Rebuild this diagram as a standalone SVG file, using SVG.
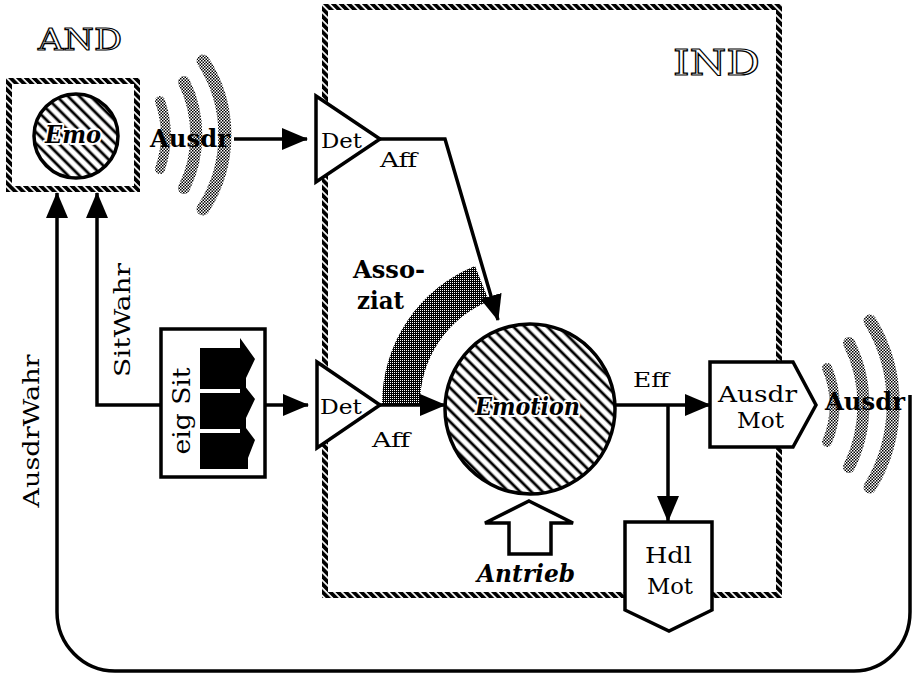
<svg xmlns="http://www.w3.org/2000/svg" width="912" height="675" viewBox="0 0 912 675">
<defs>
<pattern id="hatch" width="8" height="8" patternUnits="userSpaceOnUse" patternTransform="rotate(45)"><rect width="8" height="8" fill="#fff"/><rect y="2.6" width="8" height="2.8" fill="#000"/></pattern>
<pattern id="rope" width="5.5" height="5.5" patternUnits="userSpaceOnUse" patternTransform="rotate(-45)"><rect width="3.8" height="5.5" fill="#000"/></pattern>
<pattern id="stip" width="3" height="3" patternUnits="userSpaceOnUse"><rect width="3" height="3" fill="#fff"/><rect width="1.5" height="1.5" fill="#000"/><rect x="1.5" y="1.5" width="1.5" height="1.5" fill="#000"/></pattern>
<pattern id="dark" width="2" height="2" patternUnits="userSpaceOnUse"><rect width="2" height="2" fill="#000"/><rect width="1" height="1" fill="#fff"/></pattern>
<marker id="ah" markerUnits="userSpaceOnUse" viewBox="0 0 26 22" markerWidth="26" markerHeight="22" refX="25" refY="11" orient="auto"><path d="M0,0 L26,11 L0,22 z" fill="#000"/></marker>
</defs>
<style>
.t{font-family:"DejaVu Serif","Liberation Serif",serif;fill:#000}
.b{font-weight:bold}
.bi{font-weight:bold;font-style:italic;stroke:#fff;stroke-width:4;paint-order:stroke;stroke-linejoin:round}
.open{fill:#fff;stroke:#000;stroke-width:1.2}
.box{fill:#fff;stroke:#000;stroke-width:3.5;stroke-linejoin:miter}
.line{fill:none;stroke:#000;stroke-width:3.5}
.wave{fill:none;stroke:url(#stip);stroke-linecap:round}
.frame{fill:none;stroke:url(#rope);stroke-width:6}
</style>
<rect width="912" height="675" fill="#fff"/>

<g id="IND">
<rect class="frame" x="325" y="7" width="454" height="588"/>
<text class="t open" x="673" y="75" font-size="36" textLength="87" lengthAdjust="spacingAndGlyphs">IND</text>
</g>

<g id="AND">
<text class="t open" x="38" y="50" font-size="30" textLength="84" lengthAdjust="spacingAndGlyphs">AND</text>
<rect class="frame" x="9" y="81" width="128" height="108"/>
<circle cx="76" cy="136" r="42" fill="url(#hatch)" stroke="#000" stroke-width="3.5"/>
<text class="t bi" x="45" y="143" font-size="24" textLength="56" lengthAdjust="spacingAndGlyphs">Emo</text>
</g>

<g id="Ausdr-left">
<path class="wave" stroke-width="10" d="M160 101 A104 104 0 0 1 160 169"/>
<path class="wave" stroke-width="12" d="M184 82 A120 120 0 0 1 184 188"/>
<path class="wave" stroke-width="13" d="M203 61 A136 136 0 0 1 203 209"/>
<text class="t b" x="150" y="147" font-size="24" textLength="80" lengthAdjust="spacingAndGlyphs">Ausdr</text>
</g>

<g id="Assoziat">
<path d="M382 404 A149 149 0 0 1 475 266 L489 301 A111 111 0 0 0 420 404 Z" fill="url(#dark)"/>
<text class="t b" x="353" y="278" font-size="24" textLength="72" lengthAdjust="spacingAndGlyphs">Asso-</text>
<text class="t b" x="357" y="309" font-size="24" textLength="47" lengthAdjust="spacingAndGlyphs">ziat</text>
</g>

<g id="connectors">
<path class="line" d="M234 139 H307" marker-end="url(#ah)"/>
<path class="line" d="M380 139 H445 L498 320" marker-end="url(#ah)"/>
<path class="line" d="M161 405 H97 V193" marker-end="url(#ah)"/>
<path class="line" d="M910 395 V612 A56 59 0 0 1 854 671 H115 A58 59 0 0 1 57 612 V193" marker-end="url(#ah)"/>
<path class="line" d="M266 405 H308" marker-end="url(#ah)"/>
<path class="line" d="M380 405 H445" marker-end="url(#ah)"/>
<path class="line" d="M615 405 H710" marker-end="url(#ah)"/>
<path class="line" d="M668 405 V521" marker-end="url(#ah)"/>
</g>

<g id="DetTop">
<polygon class="box" points="316,96 380,139 316,182"/>
<text class="t" x="321" y="148" font-size="21" textLength="41" lengthAdjust="spacingAndGlyphs">Det</text>
<text class="t" x="380" y="167" font-size="21" textLength="37" lengthAdjust="spacingAndGlyphs">Aff</text>
</g>

<g id="DetBottom">
<polygon class="box" points="317,362 380,405 317,448"/>
<text class="t" x="320" y="414" font-size="21" textLength="42" lengthAdjust="spacingAndGlyphs">Det</text>
<text class="t" x="372" y="447" font-size="21" textLength="38" lengthAdjust="spacingAndGlyphs">Aff</text>
</g>

<g id="eigSit">
<rect class="box" x="161" y="329" width="104" height="148"/>
<path fill="#000" d="M200 348 H240 V338 L255 359 L246 378 L246 389 H200 Z M200 393 H240 V380 L255 399 L246 418 L246 429 H200 Z M200 433 H240 V420 L255 440 L248 458 L248 469 H200 Z"/>
<text class="t" transform="translate(190,411) rotate(-90)" text-anchor="middle" font-size="24" textLength="87" lengthAdjust="spacingAndGlyphs">eig Sit</text>
</g>

<g id="SitWahr">
<text class="t" transform="translate(130,320) rotate(-90)" text-anchor="middle" font-size="22" textLength="114" lengthAdjust="spacingAndGlyphs">SitWahr</text>
</g>
<g id="AusdrWahr">
<text class="t" transform="translate(39,431) rotate(-90)" text-anchor="middle" font-size="22" textLength="153" lengthAdjust="spacingAndGlyphs">AusdrWahr</text>
</g>

<g id="Emotion">
<circle cx="530" cy="409" r="85" fill="url(#hatch)" stroke="#000" stroke-width="3.5"/>
<text class="t bi" x="475" y="415" font-size="25" textLength="105" lengthAdjust="spacingAndGlyphs">Emotion</text>
<text class="t" x="633" y="387" font-size="21" textLength="36" lengthAdjust="spacingAndGlyphs">Eff</text>
</g>

<g id="Antrieb">
<polygon class="box" stroke-width="3" points="529,501 573,523 551,523 551,554 509,554 509,523 485,523"/>
<text class="t b" font-style="italic" x="477" y="582" font-size="24" textLength="98" lengthAdjust="spacingAndGlyphs">Antrieb</text>
</g>

<g id="AusdrMot">
<polygon class="box" points="710,362 793,362 816,405 793,447 710,447"/>
<text class="t" x="718" y="402" font-size="22" textLength="79" lengthAdjust="spacingAndGlyphs">Ausdr</text>
<text class="t" x="737" y="428" font-size="22" textLength="47" lengthAdjust="spacingAndGlyphs">Mot</text>
</g>

<g id="HdlMot">
<polygon class="box" points="625,522 712,522 712,610 669,631 625,610"/>
<text class="t" x="645" y="563" font-size="22" textLength="47" lengthAdjust="spacingAndGlyphs">Hdl</text>
<text class="t" x="647" y="594" font-size="22" textLength="46" lengthAdjust="spacingAndGlyphs">Mot</text>
</g>

<g id="Ausdr-right">
<path class="wave" stroke-width="10" d="M827 368 A93 93 0 0 1 827 442"/>
<path class="wave" stroke-width="12" d="M849 343 A140 140 0 0 1 849 467"/>
<path class="wave" stroke-width="13" d="M870 321 A160 160 0 0 1 870 487"/>
<text class="t b" x="825" y="410" font-size="24" textLength="80" lengthAdjust="spacingAndGlyphs">Ausdr</text>
</g>
</svg>
